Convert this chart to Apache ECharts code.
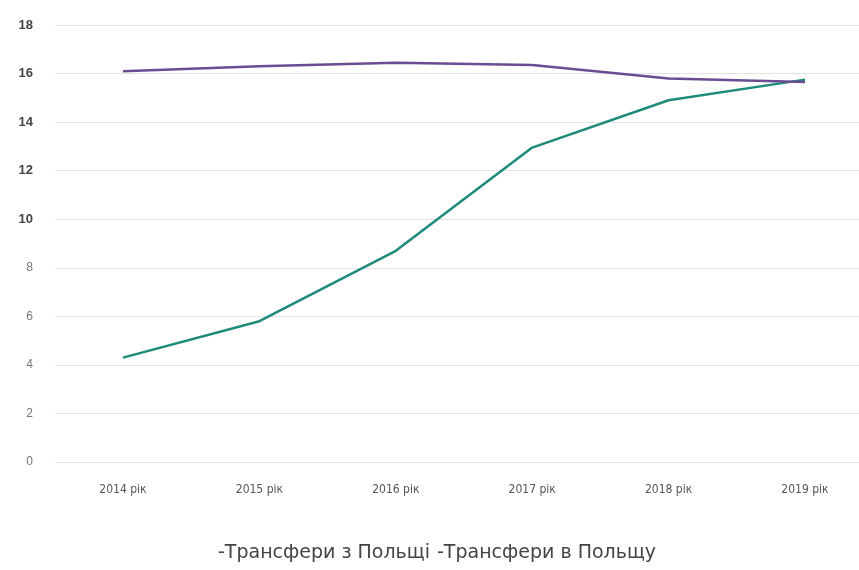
<!DOCTYPE html>
<html>
<head>
<meta charset="utf-8">
<script src="https://cdn.jsdelivr.net/npm/echarts@6/dist/echarts.min.js"></script>
<style>
  html, body { margin: 0; padding: 0; background: #fff; }
  #chart { width: 859px; height: 570px; }
</style>
</head>
<body>
<div id="chart"></div>
<script>
const categories = ['2014 рік', '2015 рік', '2016 рік', '2017 рік', '2018 рік', '2019 рік']
const fromPoland = [4.3, 5.8, 8.7, 12.95, 14.9, 15.75]
const toPoland = [16.1, 16.3, 16.45, 16.35, 15.8, 15.65]
const seriesNames = ['Трансфери з Польщі', 'Трансфери в Польщу']
const yTicks = [0, 18, 2]

let chart = echarts.init(document.getElementById('chart'))
let option = {
  animation: false,
  // grid 0 only draws the gridlines and y labels across the full width,
  // grid 1 holds the lines so the categories line up with the picture
  grid: [
    { left: 55, right: 0, top: 25, bottom: 108 },
    { left: 123, right: 54, top: 25, bottom: 108 }
  ],
  legend: {
    bottom: 2,
    left: 208,
    icon: 'none',
    itemWidth: 0,
    itemGap: 2,
    formatter: function (name) {
      return '-' + name
    },
    textStyle: { color: '#444', fontSize: 19, fontFamily: 'DejaVu Sans' },
    data: seriesNames
  },
  xAxis: [
    {
      gridIndex: 0,
      type: 'category',
      data: categories,
      show: false
    },
    {
      gridIndex: 1,
      type: 'category',
      data: categories,
      boundaryGap: false,
      axisLine: { show: false },
      axisTick: { show: false },
      axisLabel: { color: '#555', fontSize: 12, margin: 22, fontFamily: 'DejaVu Sans Condensed' }
    }
  ],
  yAxis: [
    {
      gridIndex: 0,
      type: 'value',
      min: yTicks[0],
      max: yTicks[1],
      interval: yTicks[2],
      axisLabel: {
        fontSize: 12,
        margin: 22,
        fontFamily: 'Liberation Sans',
        formatter: function (value) {
          // top half of the scale is printed darker in the original
          return value >= 10 ? '{dark|' + value + '}' : '{light|' + value + '}'
        },
        rich: {
          dark: { color: '#444', fontSize: 13, fontWeight: 'bold', fontFamily: 'Liberation Sans' },
          light: { color: '#777', fontSize: 12, fontFamily: 'Liberation Sans' }
        }
      },
      splitLine: { lineStyle: { color: '#e4e4e4', width: 1 } }
    },
    {
      gridIndex: 1,
      type: 'value',
      min: yTicks[0],
      max: yTicks[1],
      interval: yTicks[2],
      show: false,
      splitLine: { show: false }
    }
  ],
  series: [
    {
      name: seriesNames[0],
      type: 'line',
      xAxisIndex: 1,
      yAxisIndex: 1,
      data: fromPoland,
      symbol: 'none',
      lineStyle: { color: '#1e8a7c', width: 2.5 },
      itemStyle: { color: '#1e8a7c' }
    },
    {
      name: seriesNames[1],
      type: 'line',
      xAxisIndex: 1,
      yAxisIndex: 1,
      data: toPoland,
      symbol: 'none',
      lineStyle: { color: '#6a4c93', width: 2.5 },
      itemStyle: { color: '#6a4c93' }
    }
  ]
}
chart.setOption(option)
</script>
</body>
</html>
